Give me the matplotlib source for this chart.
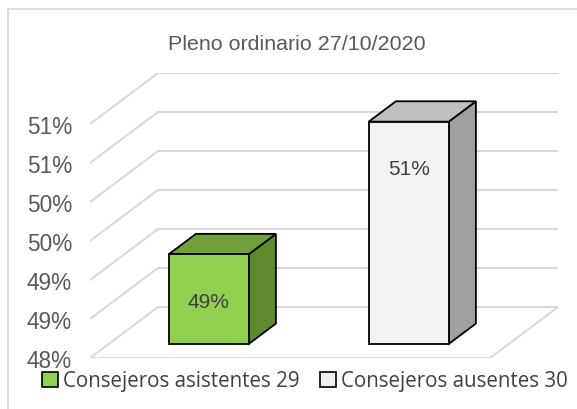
import matplotlib
matplotlib.use("Agg")
import matplotlib.pyplot as plt
from matplotlib.patches import Polygon, Rectangle, Patch

# data
title = "Pleno ordinario 27/10/2020"
categories = ["Consejeros asistentes 29", "Consejeros ausentes 30"]
values = [49.15, 50.85]          # percent
bar_labels = ["49%", "51%"]
grid_values = [48, 48.5, 49, 49.5, 50, 50.5, 51]
tick_labels = ["48%", "49%", "49%", "50%", "50%", "51%", "51%"]

front_colors = ["#92d050", "#f2f2f2"]
top_colors = ["#70a03a", "#bfbfbf"]
side_colors = ["#5e8a2e", "#a0a0a0"]

# oblique "3d" depth vector in data units (x in categories, y in percent)
ddx, ddy = 0.34, 0.654
f0, f1 = 0.275, 0.675     # bar front / back depth fraction
half_w = 0.2
ymin = grid_values[0]

plt.rcParams['font.family'] = ['Liberation Sans', 'DejaVu Sans']

fig = plt.figure(figsize=(5.77, 4.10), dpi=100)
ax = fig.add_axes([90 / 577, 51 / 410, 468 / 577, 285 / 410])
n = len(categories)
ax.set_xlim(0, n + ddx)
ax.set_ylim(ymin, grid_values[-1] + ddy)

grid_c = "#d9d9d9"
for v in grid_values:
    ax.plot([0, ddx, n + ddx], [v, v + ddy, v + ddy], color=grid_c, lw=1.5, zorder=1,
            solid_capstyle='butt')
# floor front and right edges
ax.plot([0, n, n + ddx], [ymin, ymin, ymin + ddy], color=grid_c, lw=1.5, zorder=1)

for i, (v, fc, tc, sc) in enumerate(zip(values, front_colors, top_colors, side_colors)):
    c = i + 0.5
    x0 = c - half_w + f0 * ddx
    x1 = c + half_w + f0 * ddx
    yb = ymin + f0 * ddy
    yt = v + f0 * ddy
    ex, ey = (f1 - f0) * ddx, (f1 - f0) * ddy
    front = Polygon([(x0, yb), (x1, yb), (x1, yt), (x0, yt)], closed=True,
                    facecolor=fc, edgecolor="black", lw=1.3, zorder=3)
    top = Polygon([(x0, yt), (x1, yt), (x1 + ex, yt + ey), (x0 + ex, yt + ey)], closed=True,
                  facecolor=tc, edgecolor="black", lw=1.3, zorder=3)
    side = Polygon([(x1, yb), (x1 + ex, yb + ey), (x1 + ex, yt + ey), (x1, yt)], closed=True,
                   facecolor=sc, edgecolor="black", lw=1.3, zorder=3)
    for p in (side, top, front):
        ax.add_patch(p)
    ax.text((x0 + x1) / 2, v - 0.6 + f0 * ddy, bar_labels[i], ha="center", va="center",
            fontsize=15, color="#404040", zorder=4)

ax.set_yticks(grid_values)
ax.set_yticklabels(tick_labels, fontsize=16.3, color="#595959")
ax.tick_params(axis="y", length=0, pad=13)
ax.set_xticks([])
for s in ax.spines.values():
    s.set_visible(False)
ax.patch.set_visible(False)

fig.text(297 / 577, 1 - 44 / 410, title, ha="center", va="center", fontsize=15.4,
         color="#595959")

handles = [Patch(facecolor=fc, edgecolor="black", lw=1.2) for fc in front_colors]
fig.legend(handles, categories, loc="center", bbox_to_anchor=(305 / 577, 1 - 382 / 410),
           ncol=2, frameon=False, handlelength=0.75, handleheight=0.75, handletextpad=0.25,
           columnspacing=1.0, prop={'family': ['Open Sans', 'DejaVu Sans'], 'size': 14.8},
           labelcolor="#404040")

fig.patches.append(Rectangle((8 / 577, -0.1), 1.0, 1 - 10 / 410 + 0.1, transform=fig.transFigure,
                             fill=False, edgecolor="#d9d9d9", lw=1.3))

fig.savefig("out.png", dpi=100)
